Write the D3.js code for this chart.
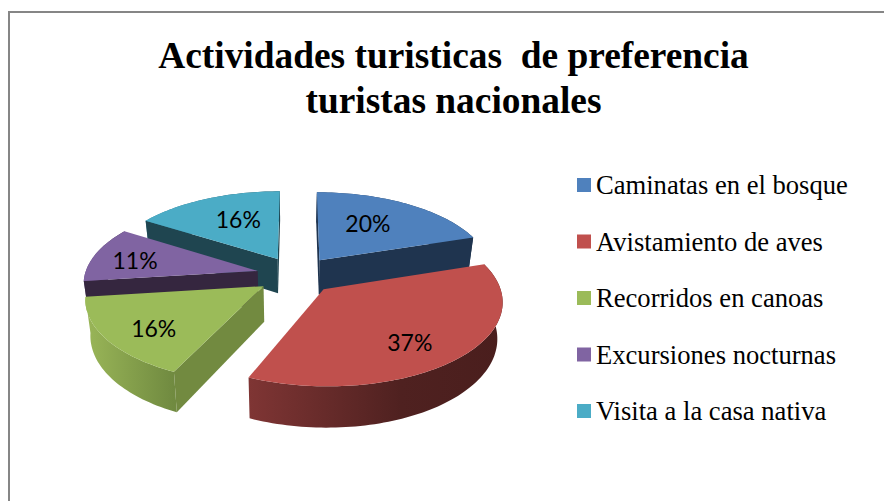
<!DOCTYPE html>
<html>
<head>
<meta charset="utf-8">
<script src="https://cdn.jsdelivr.net/npm/d3@7"></script>
<style>
html,body{margin:0;padding:0;background:#fff;overflow:hidden}
svg{display:block}
text{white-space:pre}
</style>
</head>
<body>
<svg id="c" width="884" height="501"></svg>
<script>
const titleLines = ["Actividades turisticas  de preferencia", "turistas nacionales"];
const categories = ["Caminatas en el bosque","Avistamiento de aves","Recorridos en canoas","Excursiones nocturnas","Visita a la casa nativa"];
const values = [20,37,16,11,16];

const topColors  = ["#4f81bd","#c0504d","#9bbb59","#8064a2","#4bacc6"];
const wallColors = ["#1f344f","#4f2120","#728a40","#35263f","#1f4550"];
const rimStops = [
  ["#2b4568","#1f344f"],
  ["#7f3534","#4f2120","#4a1e1d"],
  ["#9ab658","#708a40"],
  ["#6a5387","#35263f"],
  ["#3a8aa0","#1f4550"]
];
const labelRadius = [0.60,0.73,0.745,0.74,0.612];
const labelTurn = [-3.2,3.5,-2.9,-2,2.8];
const endTrim = [0,2.2,0,0,0];
const drawOrder = [0,4,3,2,1];

// projection of the tilted, exploded pie
const cam = {ox:296.5, oy:275, k:0.465, p:0.00075, R:173, explode:40, depth:35, vx:290, conv:0.975};
const project = (X,Y,down=false)=>{
  const w = 1/(1+cam.p*Y);
  let sx = cam.ox + X*w, sy = cam.oy - Y*cam.k*w;
  if(down){ sx = cam.vx + (sx-cam.vx)*cam.conv; sy += cam.depth*w; }
  return [sx,sy];
};
const rad = d=>d*Math.PI/180;
const svg = d3.select("#c");
const defs = svg.append("defs");
const line = d3.line();

// frame
svg.append("rect").attr("x",9).attr("y",12).attr("width",900).attr("height",520)
   .attr("fill","#fff").attr("stroke","#868686").attr("stroke-width",2);

// title
svg.append("g").selectAll("text").data(titleLines).join("text")
   .attr("x",453.5).attr("y",(d,i)=>i?113:68)
   .attr("text-anchor","middle")
   .attr("font-family","'Liberation Serif'").attr("font-weight","bold").attr("font-size",37.4)
   .attr("fill","#000").text(d=>d);

// slices
const arcs = d3.pie().sort(null).value(d=>d).startAngle(0).endAngle(2*Math.PI)(values);
const g = svg.append("g");
drawOrder.forEach(i=>{
  const a = arcs[i], mid=(a.startAngle+a.endAngle)/2;
  const t0 = a.startAngle, t1 = a.endAngle-rad(endTrim[i]);
  const ax = cam.explode*Math.sin(mid), ay = cam.explode*Math.cos(mid);
  const n = Math.max(2,Math.ceil((t1-t0)*40));
  const angs = d3.range(n+1).map(j=>t0+(t1-t0)*j/n);
  const ground = angs.map(t=>[ax+cam.R*Math.sin(t), ay+cam.R*Math.cos(t)]);
  const topRim = ground.map(p=>project(p[0],p[1]));
  const botRim = ground.map(p=>project(p[0],p[1],true));
  const aT = project(ax,ay), aB = project(ax,ay,true);

  const xs = topRim.map(p=>p[0]);
  const grad = defs.append("linearGradient").attr("id","rim"+i)
     .attr("gradientUnits","userSpaceOnUse")
     .attr("x1",d3.min(xs)).attr("x2",d3.max(xs)).attr("y1",0).attr("y2",0);
  const stops = rimStops[i];
  const offs = stops.length===3 ? [0,0.6,1] : [0,1];
  stops.forEach((c,j)=>grad.append("stop").attr("offset",offs[j]).attr("stop-color",c));

  const sl = g.append("g");
  // rim wall
  sl.append("path").attr("d",line(topRim.concat(botRim.slice().reverse()))+"Z").attr("fill",`url(#rim${i})`);
  // cut walls that face the viewer
  if(Math.sin(t0)<=1e-6)
    sl.append("path").attr("d",line([aT,topRim[0],botRim[0],aB])+"Z").attr("fill",wallColors[i]);
  if(Math.sin(t1)>=-1e-6)
    sl.append("path").attr("d",line([aT,topRim[n],botRim[n],aB])+"Z").attr("fill",wallColors[i]);
  // top
  sl.append("path").attr("d",line([aT].concat(topRim))+"Z").attr("fill",topColors[i]);
});

// data labels
const total = d3.sum(values);
const pct = d3.format(".0%");
const labels = svg.append("g");
arcs.forEach((a,i)=>{
  const mid=(a.startAngle+a.endAngle)/2+rad(labelTurn[i]), r=cam.explode+cam.R*labelRadius[i];
  const p = project(r*Math.sin(mid), r*Math.cos(mid));
  labels.append("text").attr("x",p[0]).attr("y",p[1]).attr("dy","0.35em")
    .attr("text-anchor","middle").attr("font-family","Lato").attr("font-size",23)
    .attr("fill","#000").text(pct(a.data/total));
});

// legend
const ly = d3.scalePoint().domain(categories).range([185,411]);
const legend = svg.append("g").selectAll("g").data(categories).join("g")
   .attr("transform",d=>`translate(0,${ly(d)})`);
legend.append("rect").attr("x",577).attr("y",-7).attr("width",14).attr("height",14)
   .attr("fill",(d,i)=>topColors[i]);
legend.append("text").attr("x",596).attr("y",9)
   .attr("font-family","'Liberation Serif'").attr("font-size",26.6).attr("fill","#000").text(d=>d);
</script>
</body>
</html>
